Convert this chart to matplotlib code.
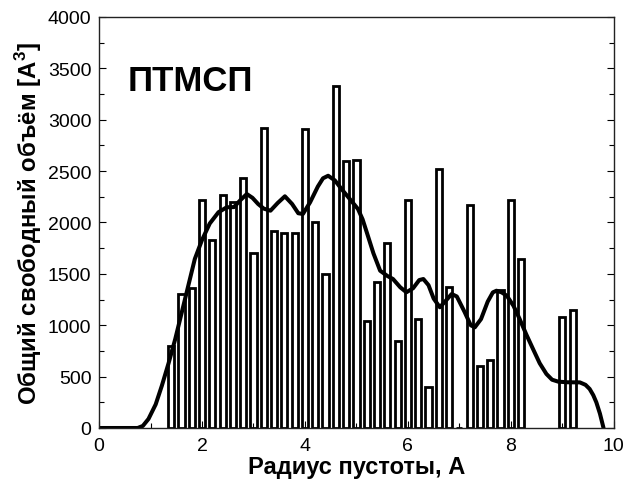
import matplotlib.pyplot as plt
from matplotlib.ticker import MultipleLocator

plt.rcParams['font.family'] = ['Liberation Sans', 'DejaVu Sans']
plt.rcParams['mathtext.fontset'] = 'custom'
plt.rcParams['mathtext.rm'] = 'Liberation Sans'
plt.rcParams['mathtext.bf'] = 'Liberation Sans:bold'

# histogram bars: pore radius (A) and free volume (A^3)
bar_x = [1.4, 1.6, 1.8, 2.0, 2.2, 2.4, 2.6, 2.8, 3.0, 3.2, 3.4, 3.6, 3.8,
         4.0, 4.2, 4.4, 4.6, 4.8, 5.0, 5.2, 5.4, 5.6, 5.8, 6.0, 6.2, 6.4,
         6.6, 6.8, 7.0, 7.2, 7.4, 7.6, 7.8, 8.0, 8.2, 9.0, 9.2]
bar_h = [800, 1300, 1360, 2220, 1830, 2270, 2200, 2430, 1700, 2920, 1920, 1900, 1900,
         2910, 2000, 1500, 3330, 2600, 2610, 1040, 1420, 1800, 850, 2220, 1060, 400,
         2520, 1375, 0, 2170, 600, 660, 1340, 2220, 1640, 1080, 1145]

# smooth distribution curve
curve_x = [0.0, 0.75, 0.85, 0.96, 1.10, 1.22, 1.35, 1.48, 1.67, 1.86, 2.00, 2.15,
           2.32, 2.48, 2.62, 2.75, 2.87, 2.98, 3.09, 3.20, 3.33, 3.47, 3.61, 3.75,
           3.87, 3.96, 4.10, 4.25, 4.35, 4.45, 4.58, 4.71, 4.87, 5.03, 5.12, 5.20,
           5.33, 5.46, 5.60, 5.71, 5.85, 5.97, 6.10, 6.22, 6.30, 6.40, 6.50, 6.62,
           6.72, 6.85, 6.95, 7.10, 7.22, 7.30, 7.42, 7.55, 7.65, 7.72, 7.82, 7.92,
           8.05, 8.17, 8.30, 8.43, 8.56, 8.69, 8.80, 8.92, 9.10, 9.34, 9.45, 9.53,
           9.60, 9.66, 9.73, 9.80]
curve_y = [0, 0, 20, 88, 230, 412, 630, 866, 1255, 1645, 1830, 1990,
           2100, 2148, 2150, 2220, 2277, 2240, 2180, 2135, 2115, 2190, 2255, 2180,
           2090, 2083, 2197, 2350, 2430, 2455, 2410, 2326, 2229, 2131, 2030, 1905,
           1700, 1531, 1480, 1450, 1370, 1321, 1360, 1440, 1450, 1390, 1260, 1175,
           1230, 1304, 1280, 1130, 1000, 980, 1060, 1230, 1320, 1336, 1320, 1288,
           1190, 1061, 910, 769, 630, 526, 470, 451, 445, 444, 420, 380,
           320, 250, 140, 0]

fig = plt.figure(figsize=(6.27, 4.89), dpi=100)
ax = fig.add_axes([0.158, 0.1227, 0.821, 0.8405])

ax.bar(bar_x, bar_h, width=0.12, color='white', edgecolor='black', linewidth=2.0)
ax.plot(curve_x, curve_y, color='black', linewidth=2.9, solid_capstyle='round',
        solid_joinstyle='round')

ax.set_xlim(0, 10)
ax.set_ylim(0, 4000)
ax.xaxis.set_major_locator(MultipleLocator(2))
ax.xaxis.set_minor_locator(MultipleLocator(1))
ax.yaxis.set_major_locator(MultipleLocator(500))
ax.yaxis.set_minor_locator(MultipleLocator(250))
ax.tick_params(which='both', direction='in', right=True, top=False, labelsize=14)
ax.tick_params(axis='x', pad=6.5)
ax.tick_params(axis='y', pad=5.5)
ax.tick_params(which='major', length=5, width=0.8)
ax.tick_params(which='minor', length=3.5, width=0.8)
for s in ax.spines.values():
    s.set_linewidth(1.0)
    s.set_color('#222222')

ax.text(0.56, 3380, 'ПТМСП', fontsize=25, fontweight='bold', va='center', ha='left')
ax.set_xlabel('Радиус пустоты, А', fontsize=17, fontweight='bold', labelpad=1)
ax.set_ylabel('Общий свободный объём [А$^{\\mathbf{3}}$]', fontsize=17.3,
              fontweight='bold', labelpad=3)

fig.savefig('out.png', dpi=100)
